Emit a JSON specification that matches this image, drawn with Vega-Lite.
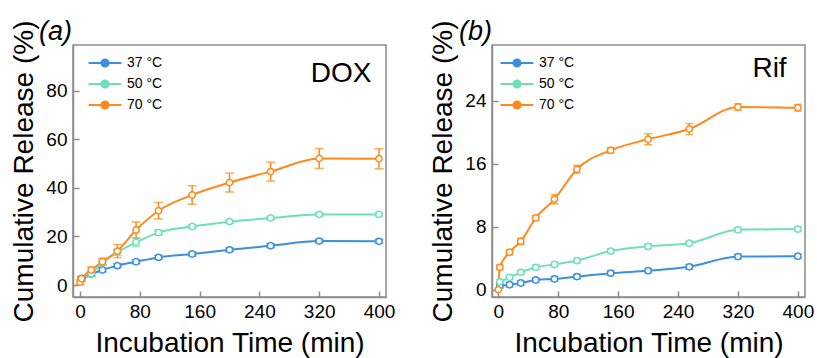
{
  "$schema": "https://vega.github.io/schema/vega-lite/v6.json",
  "padding": {"left": 10, "top": 17, "right": 5, "bottom": 2},
  "config": {
    "font": "Liberation Sans",
    "view": {"stroke": "#8c8c8c", "strokeWidth": 1.5},
    "axis": {
      "domainColor": "#8c8c8c", "domainWidth": 1.5,
      "tickColor": "#8c8c8c", "tickWidth": 1.5,
      "grid": false,
      "labelFont": "Liberation Sans", "labelFontSize": 19, "labelColor": "#000",
      "titleFont": "Liberation Sans", "titleFontSize": 28, "titleFontWeight": "normal", "titleColor": "#000"
    },
    "axisX": {"labelPadding": 11, "titlePadding": 8, "labelFlush": false},
    "axisY": {"labelPadding": 12, "titlePadding": 7},
    "legend": {
      "orient": "none", "title": null,
      "labelFont": "Liberation Sans", "labelFontSize": 14, "labelColor": "#000",
      "labelOffset": 15, "rowPadding": 5, "padding": 0
    }
  },
  "datasets": {
    "dox": [
      {"temp": "37 °C", "t": 2, "r": 2.8, "e": 0.5},
      {"temp": "37 °C", "t": 15, "r": 4.5, "e": 0.8},
      {"temp": "37 °C", "t": 30, "r": 6.2, "e": 0.8},
      {"temp": "37 °C", "t": 50, "r": 8.0, "e": 0.8},
      {"temp": "37 °C", "t": 75, "r": 9.6, "e": 0.8},
      {"temp": "37 °C", "t": 105, "r": 11.4, "e": 0.8},
      {"temp": "37 °C", "t": 150, "r": 12.8, "e": 0.8},
      {"temp": "37 °C", "t": 200, "r": 14.5, "e": 0.8},
      {"temp": "37 °C", "t": 255, "r": 16.2, "e": 0.8},
      {"temp": "37 °C", "t": 320, "r": 18.1, "e": 0.8},
      {"temp": "37 °C", "t": 400, "r": 18.0, "e": 0.8},
      {"temp": "50 °C", "t": 2, "r": 2.2, "e": 0.5},
      {"temp": "50 °C", "t": 15, "r": 4.6, "e": 0.8},
      {"temp": "50 °C", "t": 30, "r": 9.2, "e": 0.8},
      {"temp": "50 °C", "t": 50, "r": 13.5, "e": 1.2},
      {"temp": "50 °C", "t": 75, "r": 17.6, "e": 1.7},
      {"temp": "50 °C", "t": 105, "r": 21.6, "e": 1.0},
      {"temp": "50 °C", "t": 150, "r": 24.1, "e": 0.8},
      {"temp": "50 °C", "t": 200, "r": 26.1, "e": 0.7},
      {"temp": "50 °C", "t": 255, "r": 27.6, "e": 0.7},
      {"temp": "50 °C", "t": 320, "r": 29.1, "e": 0.7},
      {"temp": "50 °C", "t": 400, "r": 29.1, "e": 0.7},
      {"temp": "70 °C", "t": 0, "r": 1.2, "e": 1.0},
      {"temp": "70 °C", "t": 2, "r": 2.6, "e": 1.0},
      {"temp": "70 °C", "t": 15, "r": 6.2, "e": 1.2},
      {"temp": "70 °C", "t": 30, "r": 9.6, "e": 1.5},
      {"temp": "70 °C", "t": 50, "r": 14.0, "e": 2.7},
      {"temp": "70 °C", "t": 75, "r": 22.7, "e": 3.3},
      {"temp": "70 °C", "t": 105, "r": 30.6, "e": 3.4},
      {"temp": "70 °C", "t": 150, "r": 37.1, "e": 3.8},
      {"temp": "70 °C", "t": 200, "r": 42.2, "e": 3.9},
      {"temp": "70 °C", "t": 255, "r": 46.7, "e": 3.9},
      {"temp": "70 °C", "t": 320, "r": 52.1, "e": 4.1},
      {"temp": "70 °C", "t": 400, "r": 52.0, "e": 4.1}
    ],
    "rif": [
      {"temp": "37 °C", "t": 2, "r": 0.5, "e": 0.3},
      {"temp": "37 °C", "t": 15, "r": 0.63, "e": 0.3},
      {"temp": "37 °C", "t": 30, "r": 0.85, "e": 0.3},
      {"temp": "37 °C", "t": 50, "r": 1.23, "e": 0.3},
      {"temp": "37 °C", "t": 75, "r": 1.36, "e": 0.3},
      {"temp": "37 °C", "t": 105, "r": 1.66, "e": 0.3},
      {"temp": "37 °C", "t": 150, "r": 2.1, "e": 0.3},
      {"temp": "37 °C", "t": 200, "r": 2.4, "e": 0.3},
      {"temp": "37 °C", "t": 255, "r": 2.9, "e": 0.3},
      {"temp": "37 °C", "t": 320, "r": 4.2, "e": 0.3},
      {"temp": "37 °C", "t": 400, "r": 4.24, "e": 0.3},
      {"temp": "50 °C", "t": 2, "r": 1.0, "e": 0.3},
      {"temp": "50 °C", "t": 15, "r": 1.57, "e": 0.3},
      {"temp": "50 °C", "t": 30, "r": 2.2, "e": 0.3},
      {"temp": "50 °C", "t": 50, "r": 2.84, "e": 0.3},
      {"temp": "50 °C", "t": 75, "r": 3.2, "e": 0.3},
      {"temp": "50 °C", "t": 105, "r": 3.7, "e": 0.3},
      {"temp": "50 °C", "t": 150, "r": 4.9, "e": 0.3},
      {"temp": "50 °C", "t": 200, "r": 5.5, "e": 0.3},
      {"temp": "50 °C", "t": 255, "r": 5.9, "e": 0.3},
      {"temp": "50 °C", "t": 320, "r": 7.6, "e": 0.3},
      {"temp": "50 °C", "t": 400, "r": 7.7, "e": 0.3},
      {"temp": "70 °C", "t": 0, "r": 0.0, "e": 0.1},
      {"temp": "70 °C", "t": 2, "r": 2.84, "e": 0.3},
      {"temp": "70 °C", "t": 15, "r": 4.75, "e": 0.3},
      {"temp": "70 °C", "t": 30, "r": 6.14, "e": 0.4},
      {"temp": "70 °C", "t": 50, "r": 9.1, "e": 0.3},
      {"temp": "70 °C", "t": 75, "r": 11.5, "e": 0.6},
      {"temp": "70 °C", "t": 105, "r": 15.3, "e": 0.5},
      {"temp": "70 °C", "t": 150, "r": 17.7, "e": 0.36},
      {"temp": "70 °C", "t": 200, "r": 19.1, "e": 0.7},
      {"temp": "70 °C", "t": 255, "r": 20.4, "e": 0.7},
      {"temp": "70 °C", "t": 320, "r": 23.2, "e": 0.42},
      {"temp": "70 °C", "t": 400, "r": 23.1, "e": 0.42}
    ]
  },
  "bounds": "flush",
  "spacing": 106,
  "resolve": {"scale": {"color": "independent"}, "legend": {"color": "independent"}},
  "hconcat": [
    {
      "width": 313, "height": 252,
      "title": {"text": "(a)", "anchor": "start", "frame": "group", "font": "Liberation Sans", "fontStyle": "italic", "fontSize": 27, "fontWeight": "normal", "color": "#000", "dx": -34, "offset": -26},
      "data": {"name": "dox"},
      "layer": [
        {
          "encoding": {
            "x": {"field": "t", "type": "quantitative", "scale": {"domain": [-9.4, 409.4], "nice": false, "zero": false},
                  "axis": {"title": "Incubation Time (min)", "values": [0, 40, 80, 120, 160, 200, 240, 280, 320, 360, 400],
                           "labelExpr": "datum.value % 80 === 0 ? datum.label : ''",
                           "tickSize": {"condition": {"test": "datum.value % 80 === 0", "value": -6}, "value": -3}}},
            "y": {"field": "r", "type": "quantitative", "scale": {"domain": [-4.9, 98.8], "nice": false, "zero": false},
                  "axis": {"title": "Cumulative Release (%)", "values": [0, 10, 20, 30, 40, 50, 60, 70, 80, 90],
                           "labelExpr": "datum.value % 20 === 0 ? datum.label : ''",
                           "tickSize": {"condition": {"test": "datum.value % 20 === 0", "value": -6}, "value": -3}}}
          },
          "layer": [
            {
              "mark": {"type": "line", "interpolate": "monotone", "strokeWidth": 2},
              "encoding": {
                "color": {"field": "temp", "type": "nominal",
                          "scale": {"domain": ["37 °C", "50 °C", "70 °C"], "range": ["#3a8fe0", "#6ee0b8", "#ff8a1a"]},
                          "legend": {"legendX": 25, "legendY": 11,
                                     "symbolType": "M-4.1,0L-0.9,0M0.9,0L4.1,0M0.9,0A0.9,0.9,0,1,1,-0.9,0A0.9,0.9,0,1,1,0.9,0Z",
                                     "symbolSize": 64, "symbolStrokeWidth": 2, "symbolFillColor": "white",
                                     "encoding": {"symbols": {"fill": {"value": "white"}}}}}
              }
            },
            {
              "mark": {"type": "errorbar", "thickness": 1.5, "ticks": {"size": 9, "thickness": 1.5}},
              "encoding": {"yError": {"field": "e"}, "color": {"field": "temp", "type": "nominal", "legend": null}}
            },
            {
              "mark": {"type": "point", "filled": false, "fill": "white", "size": 40, "strokeWidth": 1.5, "opacity": 1},
              "encoding": {"color": {"field": "temp", "type": "nominal", "legend": null}}
            }
          ]
        },
        {
          "transform": [{"aggregate": [{"op": "count", "as": "n"}]}],
          "mark": {"type": "text", "align": "right", "baseline": "alphabetic", "fontSize": 28, "font": "Liberation Sans", "fontWeight": "normal", "fill": "#000"},
          "encoding": {
            "x": {"datum": 390},
            "y": {"datum": 83.5},
            "text": {"value": "DOX"}
          }
        }
      ]
    },
    {
      "width": 313, "height": 252,
      "title": {"text": "(b)", "anchor": "start", "frame": "group", "font": "Liberation Sans", "fontStyle": "italic", "fontSize": 27, "fontWeight": "normal", "color": "#000", "dx": -33, "offset": -26},
      "data": {"name": "rif"},
      "layer": [
        {
          "encoding": {
            "x": {"field": "t", "type": "quantitative", "scale": {"domain": [-8.4, 409.5], "nice": false, "zero": false},
                  "axis": {"title": "Incubation Time (min)", "values": [0, 40, 80, 120, 160, 200, 240, 280, 320, 360, 400],
                           "labelExpr": "datum.value % 80 === 0 ? datum.label : ''",
                           "tickSize": {"condition": {"test": "datum.value % 80 === 0", "value": -6}, "value": -3}}},
            "y": {"field": "r", "type": "quantitative", "scale": {"domain": [-0.93, 31.07], "nice": false, "zero": false},
                  "axis": {"title": "Cumulative Release (%)", "values": [0, 4, 8, 12, 16, 20, 24, 28],
                           "labelExpr": "datum.value % 8 === 0 ? datum.label : ''",
                           "tickSize": {"condition": {"test": "datum.value % 8 === 0", "value": -6}, "value": -3}}}
          },
          "layer": [
            {
              "mark": {"type": "line", "interpolate": "monotone", "strokeWidth": 2},
              "encoding": {
                "color": {"field": "temp", "type": "nominal",
                          "scale": {"domain": ["37 °C", "50 °C", "70 °C"], "range": ["#3a8fe0", "#6ee0b8", "#ff8a1a"]},
                          "legend": {"legendX": 18, "legendY": 11,
                                     "symbolType": "M-4.1,0L-0.9,0M0.9,0L4.1,0M0.9,0A0.9,0.9,0,1,1,-0.9,0A0.9,0.9,0,1,1,0.9,0Z",
                                     "symbolSize": 64, "symbolStrokeWidth": 2, "symbolFillColor": "white",
                                     "encoding": {"symbols": {"fill": {"value": "white"}}}}}
              }
            },
            {
              "mark": {"type": "errorbar", "thickness": 1.5, "ticks": {"size": 8, "thickness": 1.5}},
              "encoding": {"yError": {"field": "e"}, "color": {"field": "temp", "type": "nominal", "legend": null}}
            },
            {
              "mark": {"type": "point", "filled": false, "fill": "white", "size": 40, "strokeWidth": 1.5, "opacity": 1},
              "encoding": {"color": {"field": "temp", "type": "nominal", "legend": null}}
            }
          ]
        },
        {
          "transform": [{"aggregate": [{"op": "count", "as": "n"}]}],
          "mark": {"type": "text", "align": "right", "baseline": "alphabetic", "fontSize": 28, "font": "Liberation Sans", "fontWeight": "normal", "fill": "#000"},
          "encoding": {
            "x": {"datum": 385},
            "y": {"datum": 27.0},
            "text": {"value": "Rif"}
          }
        }
      ]
    }
  ]
}
